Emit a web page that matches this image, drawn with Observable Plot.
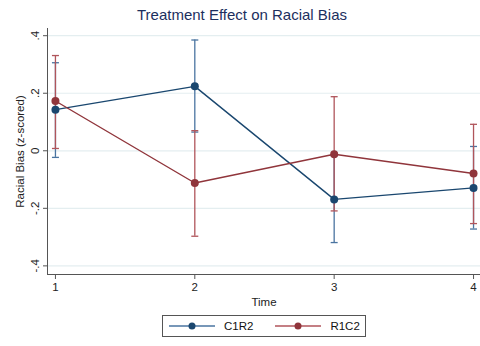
<!DOCTYPE html>
<html><head><meta charset="utf-8">
<script src="https://cdn.jsdelivr.net/npm/d3@7"></script>
<script src="https://cdn.jsdelivr.net/npm/@observablehq/plot@0.6"></script>
<style>
body{margin:0;background:#fff;font-family:"Liberation Sans",Arial,sans-serif;width:480px;height:346px;overflow:hidden;}
#title{height:28px;line-height:30px;text-align:center;font-size:15px;color:#1c2f5e;padding-left:4px;}
#chart svg{display:block;}
#legend{position:absolute;left:162px;top:315px;width:204px;height:22px;border:1px solid #555;box-sizing:border-box;display:flex;align-items:center;font-size:11.5px;color:#111;}
#legend .item{display:flex;align-items:center;}
</style></head><body>
<div id="title">Treatment Effect on Racial Bias</div>
<div id="chart"></div>
<div id="legend"></div>
<script>
const times = [1, 2, 3, 4];
const seriesNames = ["C1R2", "R1C2"];
const c1r2Est = [0.143, 0.224, -0.169, -0.129];
const c1r2Lo  = [-0.023, 0.065, -0.319, -0.272];
const c1r2Hi  = [0.306, 0.385, -0.017, 0.015];
const r1c2Est = [0.173, -0.112, -0.012, -0.079];
const r1c2Lo  = [0.008, -0.297, -0.209, -0.253];
const r1c2Hi  = [0.331, 0.070, 0.188, 0.092];
const yTicks = [-0.4, -0.2, 0, 0.2, 0.4];
const xTicks = [1, 2, 3, 4];

const lineColors = {C1R2: "#1a476f", R1C2: "#90353b"};
const errColors = {C1R2: "#4a74a0", R1C2: "#b0555b"};

const rows = [];
[[seriesNames[0], c1r2Est, c1r2Lo, c1r2Hi], [seriesNames[1], r1c2Est, r1c2Lo, r1c2Hi]].forEach(([s, e, lo, hi]) => {
  times.forEach((t, i) => rows.push({series: s, time: t, est: e[i], lo: lo[i], hi: hi[i]}));
});

const hcap = {draw(ctx, size) { const w = Math.sqrt(size / Math.PI); ctx.moveTo(-w, 0); ctx.lineTo(w, 0); }};
const fmt = d => d === 0 ? "0" : d.toFixed(1).replace("0.", ".");

const chart = Plot.plot({
  width: 480, height: 282,
  marginTop: 0, marginBottom: 36, marginLeft: 47, marginRight: 0,
  style: {fontFamily: "Liberation Sans, Arial, sans-serif", fontSize: "11px", color: "#222", background: "#fff"},
  x: {domain: [0.943, 4.05], ticks: xTicks, label: null},
  y: {domain: [-0.43, 0.425], ticks: yTicks, label: null},
  marks: [
    Plot.gridY(yTicks, {stroke: "#e4eef0", strokeOpacity: 1, strokeWidth: 1.2}),
    Plot.ruleX(rows.filter(d => d.series === "C1R2"), {x: "time", y1: "lo", y2: "hi", stroke: errColors.C1R2, strokeWidth: 1.3}),
    Plot.dot(rows.filter(d => d.series === "C1R2"), {x: "time", y: "lo", symbol: hcap, r: 3.5, stroke: errColors.C1R2, strokeWidth: 1.3, fill: "none"}),
    Plot.dot(rows.filter(d => d.series === "C1R2"), {x: "time", y: "hi", symbol: hcap, r: 3.5, stroke: errColors.C1R2, strokeWidth: 1.3, fill: "none"}),
    Plot.ruleX(rows.filter(d => d.series === "R1C2"), {x: "time", y1: "lo", y2: "hi", stroke: errColors.R1C2, strokeWidth: 1.3}),
    Plot.dot(rows.filter(d => d.series === "R1C2"), {x: "time", y: "lo", symbol: hcap, r: 3.5, stroke: errColors.R1C2, strokeWidth: 1.3, fill: "none"}),
    Plot.dot(rows.filter(d => d.series === "R1C2"), {x: "time", y: "hi", symbol: hcap, r: 3.5, stroke: errColors.R1C2, strokeWidth: 1.3, fill: "none"}),
    Plot.line(rows, {x: "time", y: "est", z: "series", stroke: d => lineColors[d.series], strokeWidth: 1.4}),
    Plot.dot(rows, {x: "time", y: "est", fill: d => lineColors[d.series], r: 4, stroke: "none"}),
    Plot.ruleX([0.943], {stroke: "#555", strokeWidth: 1}),
    Plot.ruleY([-0.43], {stroke: "#555", strokeWidth: 1}),
    Plot.axisY(yTicks, {anchor: "left", tickFormat: fmt, tickSize: 4, tickPadding: 5, tickRotate: -90, stroke: "#555", fontSize: 11.5, label: "Racial Bias (z-scored)", labelAnchor: "center", labelOffset: 32, labelArrow: "none"}),
    Plot.axisX(xTicks, {anchor: "bottom", tickFormat: d => String(d), tickSize: 5, tickPadding: 3, stroke: "#555", fontSize: 11.5, label: "Time", labelAnchor: "center", labelOffset: 31, labelArrow: "none"})
  ]
});
document.getElementById("chart").appendChild(chart);

const legend = document.getElementById("legend");
seriesNames.forEach((s, i) => {
  const item = document.createElement("div");
  item.className = "item";
  item.style.marginLeft = i === 0 ? "6px" : "22px";
  item.innerHTML = `<svg width="46" height="10"><line x1="0" y1="5" x2="46" y2="5" stroke="${errColors[s]}" stroke-width="1.3"/><circle cx="23" cy="5" r="3.5" fill="${lineColors[s]}"/></svg><span style="margin-left:9px">${s}</span>`;
  legend.appendChild(item);
});
</script>
</body></html>
